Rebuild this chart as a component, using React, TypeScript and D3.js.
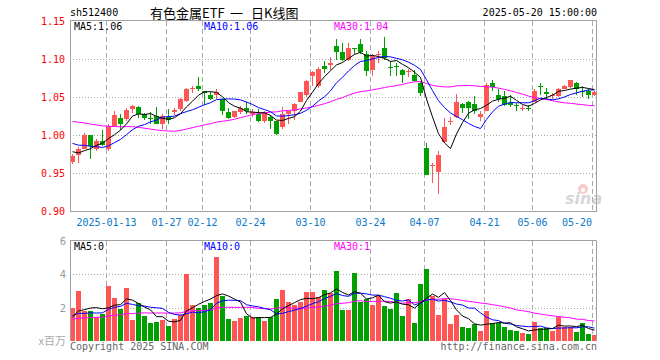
import React from "react";
import * as d3 from "d3";

// ---- data ----
const openP = [0.965,0.974,0.982,1.000,0.982,0.992,0.982,1.012,1.022,1.021,1.034,1.037,1.028,1.023,1.025,1.014,1.024,1.030,1.034,1.045,1.061,1.064,1.058,1.052,1.053,1.047,1.030,1.024,1.030,1.036,1.027,1.027,1.018,1.024,1.018,1.010,1.028,1.031,1.044,1.052,1.078,1.065,1.091,1.092,1.117,1.109,1.099,1.114,1.120,1.106,1.085,1.105,1.114,1.090,1.091,1.085,1.083,1.079,1.068,0.983,0.960,0.951,0.991,1.017,1.024,1.041,1.044,1.041,1.024,1.032,1.068,1.053,1.051,1.042,1.040,1.035,1.036,1.044,1.064,1.057,1.051,1.051,1.061,1.063,1.069,1.058,1.058,1.052];
const highP = [0.975,0.984,1.002,1.000,0.995,1.006,1.015,1.031,1.027,1.036,1.040,1.038,1.029,1.030,1.037,1.027,1.034,1.036,1.049,1.062,1.065,1.076,1.058,1.057,1.060,1.048,1.036,1.032,1.038,1.044,1.034,1.034,1.031,1.026,1.019,1.037,1.032,1.042,1.057,1.073,1.084,1.090,1.097,1.102,1.126,1.121,1.121,1.115,1.126,1.110,1.106,1.110,1.129,1.097,1.095,1.087,1.087,1.085,1.070,0.990,0.963,0.979,1.023,1.024,1.054,1.042,1.045,1.051,1.031,1.068,1.073,1.060,1.058,1.052,1.042,1.040,1.040,1.060,1.068,1.062,1.055,1.062,1.066,1.073,1.070,1.065,1.060,1.058];
const lowP = [0.962,0.963,0.981,0.968,0.979,0.986,0.979,1.010,1.006,1.019,1.029,1.022,1.020,1.015,1.014,1.008,1.014,1.026,1.032,1.044,1.055,1.058,1.040,1.046,1.047,1.026,1.021,1.023,1.028,1.028,1.024,1.017,1.016,1.008,1.000,1.008,1.015,1.020,1.043,1.050,1.064,1.062,1.081,1.085,1.099,1.097,1.097,1.107,1.106,1.078,1.078,1.095,1.099,1.077,1.078,1.068,1.076,1.070,1.051,0.947,0.937,0.923,0.990,1.013,1.023,1.029,1.021,1.028,1.018,1.031,1.058,1.043,1.038,1.037,1.032,1.032,1.031,1.043,1.053,1.047,1.047,1.050,1.060,1.062,1.053,1.050,1.047,1.051];
const closeP = [0.973,0.982,1.000,0.985,0.992,0.987,1.012,1.026,1.015,1.033,1.038,1.027,1.022,1.021,1.015,1.025,1.020,1.033,1.047,1.060,1.062,1.060,1.055,1.048,1.056,1.032,1.022,1.031,1.036,1.032,1.030,1.018,1.030,1.019,1.001,1.028,1.031,1.041,1.056,1.071,1.083,1.087,1.087,1.095,1.109,1.099,1.114,1.113,1.109,1.084,1.104,1.106,1.101,1.089,1.090,1.079,1.084,1.071,1.055,0.948,0.961,0.974,1.010,1.018,1.044,1.036,1.035,1.032,1.027,1.066,1.063,1.047,1.039,1.040,1.039,1.036,1.035,1.058,1.063,1.054,1.052,1.060,1.064,1.072,1.060,1.057,1.053,1.057];
const volume = [1.98,2.98,1.78,1.78,1.44,1.64,3.26,2.58,1.92,3.18,1.26,2.26,1.52,1.08,1.16,1.24,0.92,1.30,1.55,4.00,2.15,1.96,2.14,2.26,5.02,2.68,1.32,1.22,1.38,1.52,1.42,1.44,1.22,1.44,2.52,3.03,2.32,2.14,2.34,2.92,2.92,2.62,3.04,2.84,4.16,1.84,1.84,4.06,2.32,2.50,2.16,2.66,2.10,1.90,2.85,1.48,2.50,1.10,3.40,4.30,2.70,1.54,2.52,0.99,1.54,0.86,0.75,1.00,0.58,1.82,1.05,1.08,0.84,0.66,0.60,0.48,0.42,1.14,0.78,0.78,0.60,1.44,0.84,0.84,0.54,1.08,0.42,0.36];
// sessions before the first visible bar (feed the moving averages only)
const priorClose = [1.020,1.025,1.030,1.028,1.022,1.030,1.035,1.027,1.025,1.040,1.052,1.058,1.055,1.050,1.045,1.042,1.039,1.015,1.008,1.004,1.006,1.002,0.998,0.996,0.998,0.990,0.985,0.972,0.970];
const priorVolume = [1.1,1.3,1.0,1.2,1.4,1.1,1.2,1.3,1.0,1.1,1.3,1.2,1.4,1.1,1.2,1.3,1.1,1.2,1.2,1.3,1.5,1.8,1.4,1.6,1.5,1.2,1.4,1.3,1.32];
const dateTickIndex = [6,16,22,30,40,50,59,69,77,87];
const dateTickLabel = ["2025-01-13","01-27","02-12","02-24","03-10","03-24","04-07","04-21","05-06","05-20"];
const priceTicks = [1.15,1.10,1.05,1.00,0.95,0.90];
const volTicks = [6,4,2];

const RED = "#ff5555";
const GREEN = "#00a000";
const GRID = "#aaaaaa";
const FRAME = "#a0a0a0";
const MONO = "'DejaVu Sans Mono', 'Liberation Mono', monospace";
const CJK = "'Noto Sans CJK SC', sans-serif";

function movingAvg(prior: number[], vals: number[], n: number) {
  const all = prior.concat(vals);
  const off = prior.length;
  return vals.map((_, i) => {
    const s = all.slice(off + i - n + 1, off + i + 1);
    return d3.mean(s) as number;
  });
}

export default function App() {
  const N = closeP.length;
  const x = d3.scaleLinear().domain([0, 88]).range([70, 598]);
  const y = d3.scaleLinear().domain([0.9, 1.15]).range([211, 21]);
  const yv = d3.scaleLinear().domain([0, 6]).range([341, 240.5]);
  const cx = (i: number) => Math.round(x(i)) + 2.5;

  const pm5 = movingAvg(priorClose, closeP, 5), pm10 = movingAvg(priorClose, closeP, 10), pm30 = movingAvg(priorClose, closeP, 30);
  const vm5 = movingAvg(priorVolume, volume, 5), vm10 = movingAvg(priorVolume, volume, 10), vm30 = movingAvg(priorVolume, volume, 30);

  const lineP = d3.line<number>().x((_, i) => cx(i)).y((d) => y(d));
  const lineV = d3.line<number>().x((_, i) => cx(i)).y((d) => yv(d));

  const L = 70, R = 597;

  return (
    <svg width={660} height={360} style={{ position: "absolute", left: 0, top: 0, background: "#fff" }}>
      {/* header */}
      <text x={70} y={16} fontFamily={MONO} fontSize={10} fill="#000">sh512400</text>
      <text x={150} y={18} fontFamily={CJK} fontSize={13} fill="#000">有色金属ETF</text>
      <text x={230} y={18} fontFamily={CJK} fontSize={13} fill="#000">一</text>
      <text x={251} y={18} fontFamily={CJK} fontSize={13} fill="#000">日K线图</text>
      <text x={597} y={16} fontFamily={MONO} fontSize={10} textAnchor="end" fill="#000">2025-05-20 15:00:00</text>

      {/* grid */}
      {priceTicks.slice(1, 5).map((t) => (
        <line key={"hp" + t} x1={L} x2={R} y1={Math.round(y(t)) + 0.5} y2={Math.round(y(t)) + 0.5} stroke={GRID} strokeDasharray="1,2" />
      ))}
      {volTicks.slice(1).map((t) => (
        <line key={"hv" + t} x1={L} x2={R} y1={Math.round(yv(t)) + 0.5} y2={Math.round(yv(t)) + 0.5} stroke={GRID} strokeDasharray="1,2" />
      ))}
      {dateTickIndex.map((i) => (
        <g key={"vg" + i}>
          <line x1={Math.round(x(i)) + 0.5} x2={Math.round(x(i)) + 0.5} y1={21} y2={211} stroke={GRID} strokeDasharray="5,3" />
          <line x1={Math.round(x(i)) + 0.5} x2={Math.round(x(i)) + 0.5} y1={241} y2={341} stroke={GRID} strokeDasharray="5,3" />
        </g>
      ))}

      {/* sina watermark */}
      <g opacity={0.55}>
        <circle cx={583} cy={189} r={5} fill="#f4a0a0" />
        <circle cx={583} cy={190} r={2} fill="#fff" />
        <text x={565} y={204} fontFamily="'DejaVu Sans', sans-serif" fontSize={16} fontWeight="bold" fontStyle="italic" fill="#b8b8b8">sina</text>
      </g>

      {/* candles */}
      {closeP.map((c, i) => {
        const o = openP[i];
        const up = c >= o;
        const col = up ? RED : GREEN;
        const left = Math.round(x(i));
        const top = Math.round(y(Math.max(o, c)));
        const bot = Math.round(y(Math.min(o, c)));
        return (
          <g key={"c" + i}>
            <line x1={left + 2.5} x2={left + 2.5} y1={Math.round(y(highP[i]))} y2={Math.round(y(lowP[i]))} stroke={col} />
            <rect x={left} y={top} width={5} height={Math.max(1, bot - top)} fill={col} />
          </g>
        );
      })}
      <path d={lineP(pm30) || ""} fill="none" stroke="#ff00ff" strokeWidth={1} />
      <path d={lineP(pm10) || ""} fill="none" stroke="#0000ff" strokeWidth={1} />
      <path d={lineP(pm5) || ""} fill="none" stroke="#000" strokeWidth={1} />

      {/* volume bars */}
      {volume.map((v, i) => {
        const up = closeP[i] >= openP[i];
        const left = Math.round(x(i));
        const top = Math.round(yv(v));
        return <rect key={"v" + i} x={left} y={top} width={5} height={341 - top} fill={up ? RED : GREEN} />;
      })}
      <path d={lineV(vm30) || ""} fill="none" stroke="#ff00ff" strokeWidth={1} />
      <path d={lineV(vm10) || ""} fill="none" stroke="#0000ff" strokeWidth={1} />
      <path d={lineV(vm5) || ""} fill="none" stroke="#000" strokeWidth={1} />

      {/* frames */}
      <rect x={L + 0.5} y={20.5} width={R - L - 1} height={191} fill="none" stroke={FRAME} />
      <path d={`M${L + 0.5},341 V240.5 H${R - 0.5} V341`} fill="none" stroke={FRAME} />

      {/* MA labels */}
      <text x={74} y={30} fontFamily={MONO} fontSize={10} fill="#000">MA5:{pm5[N - 1].toFixed(2)}</text>
      <text x={204} y={30} fontFamily={MONO} fontSize={10} fill="#0000ff">MA10:{pm10[N - 1].toFixed(2)}</text>
      <text x={334} y={30} fontFamily={MONO} fontSize={10} fill="#ff00ff">MA30:{pm30[N - 1].toFixed(2)}</text>
      <text x={74} y={250} fontFamily={MONO} fontSize={10} fill="#000">MA5:0</text>
      <text x={204} y={250} fontFamily={MONO} fontSize={10} fill="#0000ff">MA10:0</text>
      <text x={334} y={250} fontFamily={MONO} fontSize={10} fill="#ff00ff">MA30:1</text>

      {/* price axis labels */}
      {priceTicks.map((t) => (
        <text key={"pt" + t} x={65} y={y(t) + 4} fontFamily={MONO} fontSize={10} textAnchor="end" fill="#ff0000">{t.toFixed(2)}</text>
      ))}
      {/* date labels */}
      {dateTickIndex.map((i, k) => {
        const last = k === dateTickIndex.length - 1;
        return (
          <text key={"dl" + i} x={last ? 592 : Math.round(x(i)) + 0.5} y={226} fontFamily={MONO} fontSize={10} textAnchor={last ? "end" : "middle"} fill="#0a78c8">{dateTickLabel[k]}</text>
        );
      })}
      {/* volume axis labels */}
      {volTicks.map((t) => (
        <text key={"vt" + t} x={66} y={yv(t) + 4} fontFamily="'DejaVu Sans', sans-serif" fontSize={10} textAnchor="end" fill="#999">{t}</text>
      ))}
      <text x={66} y={345} fontFamily={CJK} fontSize={11} textAnchor="end" fill="#aaa">x百万</text>
      <text x={70} y={350} fontFamily={MONO} fontSize={10} fill="#666">Copyright 2025 SINA.COM</text>
      <text x={597} y={350} fontFamily={MONO} fontSize={10} textAnchor="end" fill="#666">http://finance.sina.com.cn</text>
    </svg>
  );
}
